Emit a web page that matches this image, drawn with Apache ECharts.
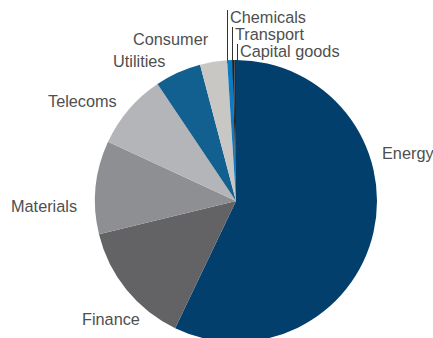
<!DOCTYPE html>
<html>
<head>
<meta charset="utf-8">
<script src="https://cdn.jsdelivr.net/npm/echarts@6/dist/echarts.min.js"></script>
<style>
html,body{margin:0;padding:0;background:#fff;}
#c{width:433px;height:338px;}
</style>
</head>
<body>
<div id="c"></div>
<script>
// Data
const categories = ['Energy', 'Finance', 'Materials', 'Telecoms', 'Utilities', 'Consumer', 'Chemicals', 'Transport', 'Capital goods'];
const values = [57.1, 14.1, 10.7, 8.7, 5.3, 3.1, 0.6, 0.2, 0.2];

// Styles / layout
const colors = ['#023f6d', '#636366', '#8e8f92', '#b4b5b8', '#11608f', '#c9c7c3', '#0c7bc2', '#1e1e1e', '#2a2a2a'];
const labelPos = [[382,153],[82,319],[11,206],[48,101],[113,61],[133,39],[230,17],[235,34],[240,51]];
const leaderExtra = [null, null, null, null, null, null, 3, 25, 25];

const chart = echarts.init(document.getElementById('c'), null, {renderer: 'svg'});
chart.setOption({
  animation: false,
  series: [{
    type: 'pie',
    center: [236, 201],
    radius: 141,
    startAngle: 90,
    clockwise: true,
    avoidLabelOverlap: false,
    minShowLabelAngle: 0,
    itemStyle: {borderWidth: 0},
    emphasis: {disabled: true},
    label: {
      show: true,
      position: 'outside',
      formatter: '{b}',
      color: '#4f4f4f',
      fontFamily: 'Liberation Sans',
      fontSize: 16.3,
      lineHeight: 14
    },
    labelLine: {show: false},
    labelLayout: function (p) {
      const i = p.dataIndex;
      const r = {x: labelPos[i][0], y: labelPos[i][1], align: 'left', verticalAlign: 'middle', hideOverlap: false, moveOverlap: false};
      if (leaderExtra[i] !== null && p.labelLinePoints) {
        const e = p.labelLinePoints[0];
        const lx = labelPos[i][0] - 2.5;
        const top = labelPos[i][1] - 7;
        r.labelLinePoints = [[lx, top], [lx, e[1]], [lx, e[1] + leaderExtra[i]]];
      }
      return r;
    },
    data: categories.map((c, i) => ({
      name: c,
      value: values[i],
      itemStyle: {color: colors[i]},
      labelLine: leaderExtra[i] !== null ? {show: true, length: 5, length2: 5, lineStyle: {color: '#333', width: 1}} : {show: false}
    }))
  }]
});
</script>
</body>
</html>
